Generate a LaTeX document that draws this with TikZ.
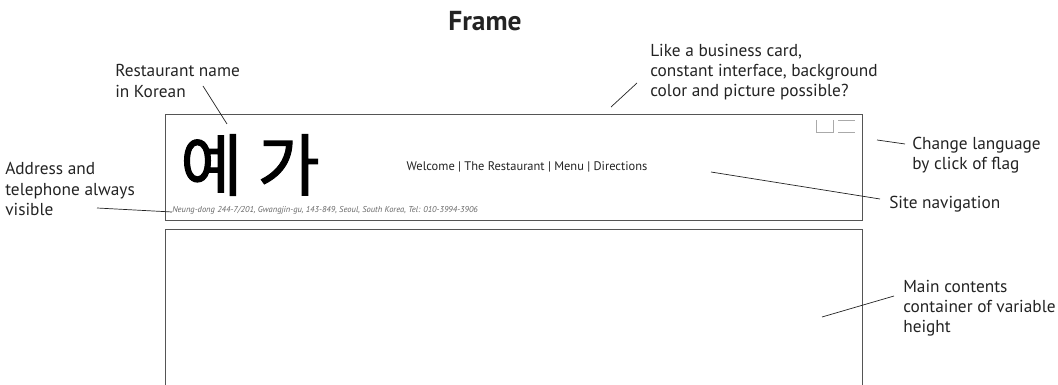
\documentclass[tikz,border=0pt]{standalone}
\usepackage{fontspec}
\setmainfont{PT Sans}
\newfontfamily\krfont[FakeBold=1.5]{Noto Sans CJK KR}
\definecolor{frameGray}{RGB}{85, 85, 85}
\definecolor{flagGray}{RGB}{170, 170, 170}
\definecolor{labelInk}{RGB}{35, 35, 35}
\tikzset{
  note/.style={anchor=west, align=left, inner sep=0pt, font=\fontsize{12.3}{14.4}\selectfont, text=labelInk},
  leader/.style={draw=labelInk, line width=0.5pt},
  panel/.style={draw=frameGray, line width=0.65pt},
  flag/.style={draw=flagGray, line width=0.45pt}
}
\begin{document}
\begin{tikzpicture}[x=0.025cm, y=-0.025cm]
  \useasboundingbox (0,0) rectangle (1058,385);
  \node[font=\fontsize{19.5}{22}\selectfont\bfseries, text=labelInk] (title) at (485,21) {Frame};

  % Header and contents boxes
  \draw[panel] (165,114) rectangle (862,220);
  \begin{scope}
    \clip (0,0) rectangle (1058,385);
    \draw[panel] (165,229) rectangle (862,400);
  \end{scope}

  % Flags
  \draw[flag] (816,120) -- (816,132) -- (833,132) -- (833,120);
  \draw[flag] (838,120) -- (855,120);
  \draw[flag] (838,132) -- (855,132);

  % Header contents
  \node[font=\krfont\fontsize{48}{52}\selectfont, text=black] (logo) at (250,165) {예 가};
  \node[font=\fontsize{8.85}{11}\selectfont, text=labelInk] (menu) at (527,167) {Welcome | The Restaurant | Menu | Directions};
  \node[anchor=west, inner sep=0pt, font=\fontsize{6.05}{7}\selectfont\itshape, text=black!60] (addr) at (172,210) {Neung-dong 244-7/201, Gwangjin-gu, 143-849, Seoul, South Korea, Tel: 010-3994-3906};

  % Notes
  \node[note] (name) at (115,81) {Restaurant name\\in Korean};
  \node[note] (card) at (650,72) {Like a business card,\\constant interface, background\\color and picture possible?};
  \node[note] (lang) at (912,155) {Change language\\by click of flag};
  \node[note] (nav) at (889,204) {Site navigation};
  \node[note] (phone) at (5,189) {Address and\\telephone always\\visible};
  \node[note] (main) at (903,308) {Main contents\\container of variable\\height};

  % Leader ends
  \coordinate (nameA) at (203,86);
  \coordinate (nameB) at (227,124);
  \coordinate (cardA) at (637,83);
  \coordinate (cardB) at (611,107);
  \coordinate (langA) at (905,144);
  \coordinate (langB) at (877,140);
  \coordinate (navA) at (880,199);
  \coordinate (navB) at (711,172);
  \coordinate (phoneA) at (97,208);
  \coordinate (phoneB) at (172,212);
  \coordinate (mainA) at (894,296);
  \coordinate (mainB) at (822,317);

  \foreach \p in {name,card,lang,nav,phone,main}
    \draw[leader] (\p A) -- (\p B);
\end{tikzpicture}
\end{document}
